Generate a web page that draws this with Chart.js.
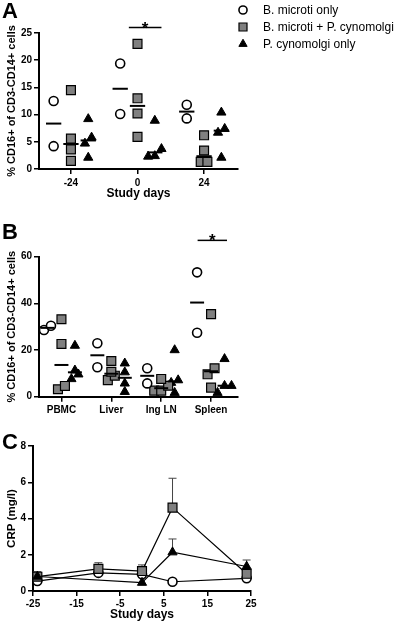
<!DOCTYPE html>
<html><head><meta charset="utf-8">
<script src="https://cdn.jsdelivr.net/npm/chart.js@4.4.1/dist/chart.umd.min.js"></script>
<style>
html,body{margin:0;padding:0;background:#fff;}
body{width:400px;height:624px;position:relative;overflow:hidden;font-family:"Liberation Sans",Arial,sans-serif;}
canvas{position:absolute;left:0;}
.pl{position:absolute;left:2px;font-weight:bold;font-size:22px;line-height:22px;color:#000;font-family:"Liberation Sans",Arial,sans-serif;}
</style></head>
<body>
<canvas id="ca" width="400" height="205" style="top:0"></canvas>
<canvas id="cb" width="400" height="215" style="top:205px"></canvas>
<canvas id="cc" width="400" height="204" style="top:420px"></canvas>
<div class="pl" style="top:0px">A</div>
<div class="pl" style="top:221px">B</div>
<div class="pl" style="top:431px">C</div>
<script>
// ---------- DATA ----------
const groupNames = ['B. microti only', 'B. microti + P. cynomolgi', 'P. cynomolgi only'];

// Panel A: % CD16+ of CD3-CD14+ cells by study day
const daysA = ['-24', '0', '24'];
const microtiA = [[12.5, 4.2], [19.4, 10.1], [11.8, 9.3]];
const coinfA   = [[14.5, 5.6, 3.6, 1.5], [23.0, 13.0, 10.2, 5.9], [6.2, 3.4, 1.3, 1.3]];
const cynoA    = [[9.2, 5.8, 4.7, 2.1], [8.9, 3.7, 2.4, 2.3], [10.4, 7.4, 6.7, 2.1]];

// Panel B: % CD16+ of CD3-CD14+ cells by tissue
const tissuesB = ['PBMC', 'Liver', 'Ing LN', 'Spleen'];
const microtiB = [[30.4, 28.6], [22.9, 12.6], [12.2, 5.7], [53.3, 27.4]];
const coinfB   = [[33.2, 22.6, 4.6, 3.2], [15.3, 10.7, 9.0, 7.1], [7.6, 4.7, 2.6, 2.6], [35.4, 12.2, 9.6, 3.9]];
const cynoB    = [[21.9, 11.3, 9.6, 7.6], [14.3, 10.5, 5.7, 2.1], [20.0, 7.1, 6.0, 1.7], [16.2, 4.7, 4.7, 1.7]];

// Panel C: CRP (mg/l) over study days, mean and upper error
const daysC = [-24, -10, 0, 7, 24];
const microtiC    = [0.55, 1.0, 0.92, 0.51, 0.7];
const microtiCerr = [null, null, null, null, null];
const coinfC      = [0.79, 1.22, 1.1, 4.6, 0.95];
const coinfCerr   = [0.28, 0.34, 0.34, 1.62, null];
const cynoC       = [0.8, null, 0.46, 2.14, 1.35];
const cynoCerr    = [null, null, null, 0.73, 0.36];

// significance bars: [xFrom, xTo, y] in data units
const sigA = [0.87, 1.36, 26];
const sigB = [2.73, 3.32, 67];

// ---------- STYLE ----------
Chart.defaults.font.family = '"Liberation Sans", Arial, sans-serif';
Chart.defaults.color = '#000';
const styles = [
  {pointStyle: 'circle',   pointRadius: 4.5, backgroundColor: '#fff',    borderColor: '#000', borderWidth: 1.6},
  {pointStyle: 'rect',     pointRadius: 6.3, backgroundColor: '#808080', borderColor: '#000', borderWidth: 1.2},
  {pointStyle: 'triangle', pointRadius: 5.3, backgroundColor: '#000',    borderColor: '#000', borderWidth: 1}
];

function median(a) {
  const s = a.slice().sort((x, y) => x - y);
  const n = s.length;
  return n % 2 ? s[(n - 1) / 2] : (s[n / 2 - 1] + s[n / 2]) / 2;
}
// column scatter spreading of close values
function swarm(values, center, ySpan, dx) {
  const idx = values.map((v, i) => i).sort((a, b) => values[a] - values[b]);
  const out = [];
  let row = [];
  const flush = () => {
    row.forEach((i, k) => out.push({x: center + (k - (row.length - 1) / 2) * dx, y: values[i]}));
    row = [];
  };
  for (const i of idx) {
    if (row.length && values[i] - values[row[0]] >= ySpan) flush();
    row.push(i);
  }
  flush();
  return out;
}
function buildColumns(groups, offsets, ySpan, dx, half) {
  const ds = [];
  groups.forEach((g, gi) => {
    let pts = [];
    g.forEach((vals, ci) => { pts = pts.concat(swarm(vals, ci + offsets[gi], ySpan, dx)); });
    ds.push(Object.assign({label: groupNames[gi], data: pts, order: 2, showLine: false}, styles[gi], {
      pointHoverRadius: styles[gi].pointRadius}));
  });
  groups.forEach((g, gi) => {
    g.forEach((vals, ci) => {
      const m = median(vals);
      const c = ci + offsets[gi];
      ds.push({label: '_median', data: [{x: c - half, y: m}, {x: c + half, y: m}], showLine: true,
        borderColor: '#000', borderWidth: 2, pointRadius: 0, order: 1});
    });
  });
  return ds;
}

function axisCommon(extra) {
  return Object.assign({
    grid: {display: true, drawOnChartArea: false, drawTicks: true, tickLength: 5, color: '#000', lineWidth: 1.5},
    border: {display: true, color: '#000', width: 2}
  }, extra);
}
const tickFont = {size: 10, weight: 'bold'};

const sigPlugin = {
  id: 'sig',
  afterDraw(chart, args, opts) {
    if (!opts || !opts.bar) return;
    const [x0, x1, y] = opts.bar;
    const xs = chart.scales.x, ys = chart.scales.y, ctx = chart.ctx;
    const px0 = xs.getPixelForValue(x0), px1 = xs.getPixelForValue(x1), py = ys.getPixelForValue(y);
    ctx.save();
    ctx.strokeStyle = '#000'; ctx.lineWidth = 1.5;
    ctx.beginPath(); ctx.moveTo(px0, py); ctx.lineTo(px1, py); ctx.stroke();
    ctx.fillStyle = '#000'; ctx.font = 'bold 17px "Liberation Sans", Arial, sans-serif';
    ctx.textAlign = 'center'; ctx.textBaseline = 'alphabetic';
    ctx.fillText('*', (px0 + px1) / 2, py + 6);
    ctx.restore();
  }
};

const keyPlugin = {
  id: 'key',
  afterDraw(chart, args, opts) {
    if (!opts || !opts.show) return;
    const ctx = chart.ctx;
    ctx.save();
    groupNames.forEach((name, i) => {
      const st = styles[i];
      const cx = opts.x, cy = opts.y + i * opts.step;
      ctx.fillStyle = st.backgroundColor; ctx.strokeStyle = st.borderColor; ctx.lineWidth = st.borderWidth;
      Chart.helpers.drawPoint(ctx, {pointStyle: st.pointStyle, radius: st.pointRadius * 0.9, rotation: 0, borderWidth: st.borderWidth}, cx, cy);
      ctx.fillStyle = '#000';
      ctx.font = '12px "Liberation Sans", Arial, sans-serif';
      ctx.textAlign = 'left'; ctx.textBaseline = 'middle';
      ctx.fillText(name, cx + 20, cy + 0.5);
    });
    ctx.restore();
  }
};

// ---------- PANEL A ----------
new Chart(document.getElementById('ca'), {
  type: 'scatter',
  data: {datasets: buildColumns([microtiA, coinfA, cynoA], [-0.26, 0, 0.26], 1.5, 0.1, 0.115)},
  plugins: [sigPlugin, keyPlugin],
  options: {
    responsive: false, animation: false, clip: false,
    layout: {padding: {left: 0, top: 33, right: 162, bottom: 0}},
    plugins: {legend: {display: false}, tooltip: {enabled: false},
      sig: {bar: sigA}, key: {show: true, x: 243, y: 10, step: 17}},
    scales: {
      x: axisCommon({type: 'linear', min: -0.48, max: 2.51,
        afterBuildTicks: s => { s.ticks = daysA.map((d, i) => ({value: i})); },
        afterFit: s => { s.height = 36; },
        ticks: {callback: v => daysA[v], font: tickFont, color: '#000', padding: 3, maxRotation: 0, autoSkip: false},
        title: {display: true, text: 'Study days', font: {size: 12, weight: 'bold'}, color: '#000', padding: {top: 0, bottom: 4}}}),
      y: axisCommon({min: 0, max: 25,
        afterFit: s => { s.width = 39; },
        ticks: {stepSize: 5, font: tickFont, color: '#000', padding: 2},
        title: {display: true, text: '% CD16+ of CD3-CD14+ cells', font: {size: 11, weight: 'bold'}, color: '#000', padding: {top: 5, bottom: 0}}})
    }
  }
});

// ---------- PANEL B ----------
new Chart(document.getElementById('cb'), {
  type: 'scatter',
  data: {datasets: buildColumns([microtiB, coinfB, cynoB], [-0.28, 0, 0.27], 3.4, 0.14, 0.14)},
  plugins: [sigPlugin],
  options: {
    responsive: false, animation: false, clip: false,
    layout: {padding: {left: 0, top: 51.7, right: 162, bottom: 0}},
    plugins: {legend: {display: false}, tooltip: {enabled: false}, sig: {bar: sigB}},
    scales: {
      x: axisCommon({type: 'linear', min: -0.45, max: 3.54,
        afterBuildTicks: s => { s.ticks = tissuesB.map((d, i) => ({value: i})); },
        afterFit: s => { s.height = 23.3; },
        ticks: {callback: v => tissuesB[v], font: tickFont, color: '#000', padding: 3, maxRotation: 0, autoSkip: false}}),
      y: axisCommon({min: 0, max: 60,
        afterFit: s => { s.width = 39; },
        ticks: {stepSize: 20, font: tickFont, color: '#000', padding: 2},
        title: {display: true, text: '% CD16+ of CD3-CD14+ cells', font: {size: 11, weight: 'bold'}, color: '#000', padding: {top: 5, bottom: 0}}})
    }
  }
});

// ---------- PANEL C ----------
const seriesC = [microtiC, coinfC, cynoC];
const errC = [microtiCerr, coinfCerr, cynoCerr];
const errPlugin = {
  id: 'errbars',
  beforeDatasetsDraw(chart) {
    const xs = chart.scales.x, ys = chart.scales.y, ctx = chart.ctx;
    ctx.save();
    ctx.strokeStyle = '#444'; ctx.lineWidth = 1;
    seriesC.forEach((s, si) => {
      s.forEach((v, i) => {
        const e = errC[si][i];
        if (v == null || e == null) return;
        const px = xs.getPixelForValue(daysC[i]);
        const p0 = ys.getPixelForValue(v), p1 = ys.getPixelForValue(v + e);
        ctx.beginPath();
        ctx.moveTo(px, p0); ctx.lineTo(px, p1);
        ctx.moveTo(px - 4, p1); ctx.lineTo(px + 4, p1);
        ctx.stroke();
      });
    });
    ctx.restore();
  }
};
new Chart(document.getElementById('cc'), {
  type: 'scatter',
  data: {datasets: seriesC.map((s, si) => Object.assign({
    label: groupNames[si],
    data: daysC.map((d, i) => s[i] == null ? null : {x: d, y: s[i]}).filter(p => p),
    showLine: true, spanGaps: true, tension: 0, order: 3 - si
  }, styles[si], {borderColor: '#000', borderWidth: 1.2, pointBorderColor: '#000',
    pointBackgroundColor: styles[si].backgroundColor, pointBorderWidth: styles[si].borderWidth,
    pointRadius: styles[si].pointRadius}))},
  plugins: [errPlugin],
  options: {
    responsive: false, animation: false, clip: false,
    layout: {padding: {left: 0, top: 26, right: 149, bottom: 0}},
    plugins: {legend: {display: false}, tooltip: {enabled: false}},
    scales: {
      x: axisCommon({type: 'linear', min: -25, max: 25,
        afterFit: s => { s.height = 33; },
        ticks: {stepSize: 10, font: tickFont, color: '#000', padding: 2, maxRotation: 0, autoSkip: false},
        title: {display: true, text: 'Study days', font: {size: 12, weight: 'bold'}, color: '#000', padding: {top: 0, bottom: 2}}}),
      y: axisCommon({min: 0, max: 8,
        afterFit: s => { s.width = 33; },
        ticks: {stepSize: 2, font: tickFont, color: '#000', padding: 2},
        title: {display: true, text: 'CRP (mg/l)', font: {size: 11.5, weight: 'bold'}, color: '#000', padding: {top: 5, bottom: 0}}})
    }
  }
});
</script>
</body></html>
